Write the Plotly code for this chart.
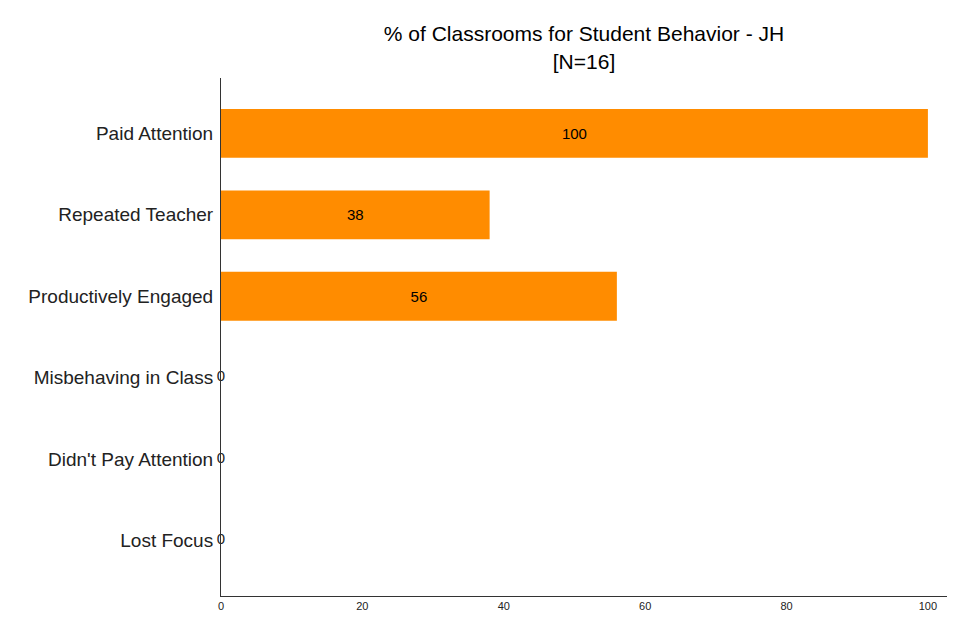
import plotly.graph_objects as go

categories = ["Paid Attention", "Repeated Teacher", "Productively Engaged",
              "Misbehaving in Class", "Didn't Pay Attention", "Lost Focus"]
values = [100, 38, 56, 0, 0, 0]
tick_vals = [0, 20, 40, 60, 80, 100]

FONT = "Liberation Sans, Arial, sans-serif"

fig = go.Figure(go.Bar(
    y=categories,
    x=values,
    orientation="h",
    marker=dict(color="#FF8C00", line=dict(width=0)),
    text=[str(v) for v in values],
    textposition="inside",
    insidetextanchor="middle",
    constraintext="none",
    textfont=dict(color="black", size=15, family=FONT),
    cliponaxis=False,
))

# labels for zero-length bars (plotly hides inside text of empty bars)
zero_cats = [c for c, v in zip(categories, values) if v == 0]
zero_vals = [v for v in values if v == 0]
fig.add_trace(go.Scatter(
    y=zero_cats, x=zero_vals, mode="text",
    text=[str(v) for v in zero_vals], textposition="middle center",
    textfont=dict(color="#222", size=15, family=FONT),
    cliponaxis=False, hoverinfo="skip",
))

fig.update_layout(
    width=954, height=636,
    paper_bgcolor="white", plot_bgcolor="white",
    margin=dict(l=221, r=7, t=78, b=40),
    bargap=0.4,
    showlegend=False,
    title=dict(
        text="% of Classrooms for Student Behavior - JH<br>[N=16]",
        x=0.5, xref="paper", xanchor="center",
        y=0.935, yref="container", yanchor="middle",
        font=dict(family=FONT, size=21, color="black"),
    ),
    font=dict(family=FONT, color="black"),
)
fig.update_xaxes(
    range=[0, 102.7], tickvals=tick_vals, showgrid=False, zeroline=False,
    showline=True, linecolor="#333", linewidth=1,
    tickfont=dict(size=11, family=FONT, color="#222"),
)
fig.update_yaxes(
    categoryorder="array", categoryarray=categories[::-1],
    range=[-0.68, 5.68], showgrid=False, zeroline=False,
    showline=True, linecolor="#333", linewidth=1,
    tickfont=dict(size=19, family=FONT, color="#222"),
    ticks="", ticklabelstandoff=3,
)

fig.write_html("out.html")
